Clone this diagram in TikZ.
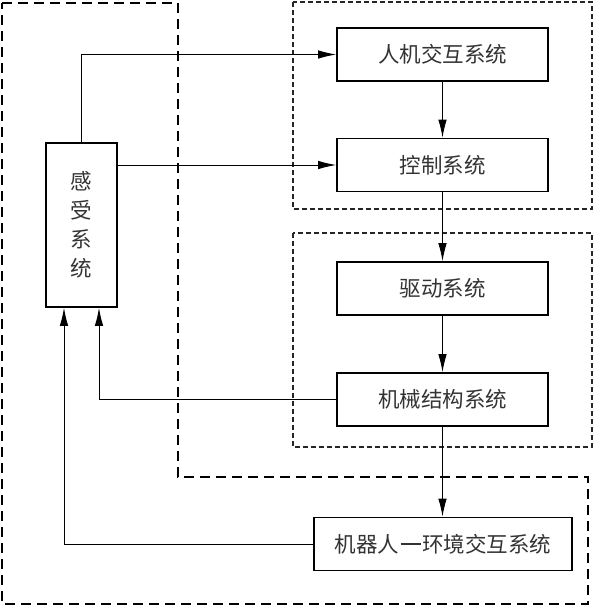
\documentclass[tikz,border=0pt]{standalone}
\usepackage{fontspec}
\newfontfamily\cjk{Noto Sans CJK SC}
\usetikzlibrary{arrows.meta,calc}
\newcommand{\cjkdash}{\kern0.05em\rule[0.33em]{0.95em}{0.08em}\kern0.05em}
\begin{document}
\begin{tikzpicture}[x=1pt,y=-1pt,
  sysbox/.style={draw,line width=1.7pt,inner sep=0pt,minimum height=53pt,minimum width=211pt,font=\cjk\fontsize{21.5}{25}\selectfont,text=black!80},
  conn/.style={line width=0.9pt,-{Latex[length=18pt,width=8.5pt]}},
  bigdash/.style={line width=1.7pt,dash pattern=on 10pt off 6pt},
  smalldash/.style={line width=1.2pt,dash pattern=on 5pt off 3pt,draw=black!85}]
\useasboundingbox (0,0) rectangle (595,607);
% dashed groups
\draw[bigdash] (2,3) -- (178,3) -- (178,477) -- (588,477) -- (588,604) -- (2,604) -- cycle;
\draw[smalldash] (293,2) rectangle (592,209);
\draw[smalldash] (293,233) rectangle (592,447);
% nodes
\node[sysbox] (hmi) at (442.5,54.5) {人机交互系统};
\node[sysbox] (ctrl) at (442.5,165) {控制系统};
\node[sysbox] (drv) at (442.5,288.5) {驱动系统};
\node[sysbox] (mech) at (442.5,399.5) {机械结构系统};
\node[sysbox,minimum width=258pt] (env) at (443,544) {机器人\cjkdash 环境交互系统};
\node[sysbox,minimum width=71pt,minimum height=164pt,align=center,font=\cjk\fontsize{21.5}{29}\selectfont] (sense) at (81.5,225) {感\\受\\系\\统};
% connectors
\draw[conn] (sense.north) |- (hmi.west);
\draw[conn] (sense.east |- ctrl.west) -- (ctrl.west);
\draw[conn] (hmi) -- (ctrl);
\draw[conn] (ctrl) -- (drv);
\draw[conn] (drv) -- (mech);
\draw[conn] (mech.south) -- (mech.south |- env.north);
\draw[conn] (mech.west) -| ([xshift=17.5pt]sense.south);
\draw[conn] (env.west) -| ([xshift=-17.5pt]sense.south);
\end{tikzpicture}
\end{document}
